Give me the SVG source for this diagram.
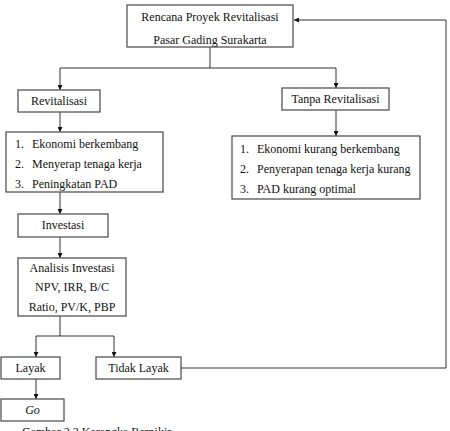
<svg xmlns="http://www.w3.org/2000/svg" width="450" height="431" viewBox="0 0 450 431">
<style>
.box{fill:#fff;stroke:#555;stroke-width:1.3}
.t{font-family:'Liberation Serif','DejaVu Serif',serif;font-size:12px;fill:#111}
.c{text-anchor:middle}
.ln{fill:none;stroke:#333;stroke-width:1}
</style>
<defs>
<marker id="ah" viewBox="0 0 10 10" refX="10" refY="5" markerWidth="5" markerHeight="5" orient="auto" markerUnits="userSpaceOnUse">
<path d="M0,0 L10,5 L0,10 z" fill="#111"/>
</marker>
</defs>
<rect width="450" height="431" fill="#fff"/>
<g id="connectors">
<path class="ln" d="M210,47 V68"/>
<path class="ln" d="M60,68 H336"/>
<path class="ln" d="M60,68 V90" marker-end="url(#ah)"/>
<path class="ln" d="M336,68 V88" marker-end="url(#ah)"/>
<path class="ln" d="M60,112 V132" marker-end="url(#ah)"/>
<path class="ln" d="M336,110 V136" marker-end="url(#ah)"/>
<path class="ln" d="M60,192 V214" marker-end="url(#ah)"/>
<path class="ln" d="M60,237 V258" marker-end="url(#ah)"/>
<path class="ln" d="M60,316 V336"/>
<path class="ln" d="M36,336 H114"/>
<path class="ln" d="M36,336 V357" marker-end="url(#ah)"/>
<path class="ln" d="M114,336 V357" marker-end="url(#ah)"/>
<path class="ln" d="M36,379 V399" marker-end="url(#ah)"/>
<path class="ln" d="M181,368 H446 V20 H294" marker-end="url(#ah)"/>
</g>
<g id="n-rencana">
<rect class="box" x="127" y="5" width="166" height="42"/>
<text class="t c" x="210" y="21">Rencana Proyek Revitalisasi</text>
<text class="t c" x="210" y="44">Pasar Gading Surakarta</text>
</g>
<g id="n-revitalisasi">
<rect class="box" x="18" y="90" width="82" height="22"/>
<text class="t c" x="59" y="105">Revitalisasi</text>
</g>
<g id="n-tanpa">
<rect class="box" x="282" y="88" width="107" height="22"/>
<text class="t c" x="335.5" y="103">Tanpa Revitalisasi</text>
</g>
<g id="n-positif">
<rect class="box" x="6" y="132" width="157" height="60"/>
<text class="t" x="15" y="148">1.</text><text class="t" x="32" y="148">Ekonomi berkembang</text>
<text class="t" x="15" y="168">2.</text><text class="t" x="32" y="168">Menyerap tenaga kerja</text>
<text class="t" x="15" y="188">3.</text><text class="t" x="32" y="188">Peningkatan PAD</text>
</g>
<g id="n-negatif">
<rect class="box" x="232" y="136" width="188" height="63"/>
<text class="t" x="240" y="153">1.</text><text class="t" x="257" y="153">Ekonomi kurang berkembang</text>
<text class="t" x="240" y="173">2.</text><text class="t" x="257" y="173">Penyerapan tenaga kerja kurang</text>
<text class="t" x="240" y="193">3.</text><text class="t" x="257" y="193">PAD kurang optimal</text>
</g>
<g id="n-investasi">
<rect class="box" x="18" y="214" width="90" height="23"/>
<text class="t c" x="63" y="229">Investasi</text>
</g>
<g id="n-analisis">
<rect class="box" x="18" y="258" width="108" height="58"/>
<text class="t c" x="72" y="272">Analisis Investasi</text>
<text class="t c" x="72" y="291">NPV, IRR, B/C</text>
<text class="t c" x="72" y="311">Ratio, PV/K, PBP</text>
</g>
<g id="n-layak">
<rect class="box" x="1" y="357" width="59" height="22"/>
<text class="t c" x="30.5" y="372">Layak</text>
</g>
<g id="n-tidak">
<rect class="box" x="96" y="357" width="85" height="22"/>
<text class="t c" x="138.5" y="372">Tidak Layak</text>
</g>
<g id="n-go">
<rect class="box" x="1" y="399" width="63" height="22"/>
<text class="t c" x="32.5" y="414" font-style="italic">Go</text>
</g>
<text class="t" x="22" y="436">Gambar 2.2 Kerangka Berpikir</text>
</svg>
